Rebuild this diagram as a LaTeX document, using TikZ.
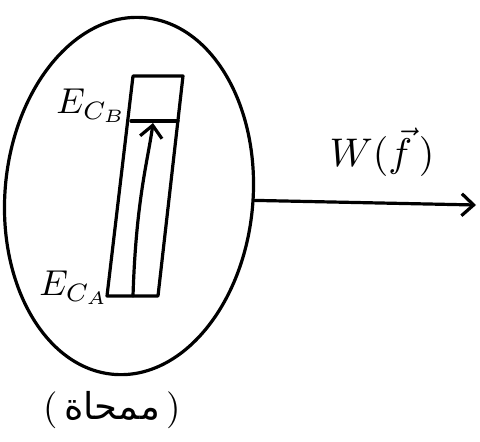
\documentclass[tikz,border=0pt]{standalone}
\usepackage{fontspec}
\usetikzlibrary{shapes.geometric,arrows.meta}
\TeXXeTstate=1
\newfontfamily\arabicfont[Script=Arabic]{DejaVu Sans}
\tikzset{
  ink/.style={line width=3.2pt, line cap=round, line join=round},
  lbl/.style={inner sep=0pt},
  tipstyle/.style={-{Straight Barb[length=12pt,width=22pt,line width=3.2pt]}}
}
\begin{document}
\begin{tikzpicture}[x=1pt,y=-1pt]
\useasboundingbox (0,0) rectangle (480,442);
% system
\node[ellipse, draw, ink, rotate=-5, minimum width=248pt, minimum height=358pt, inner sep=0pt] (sys) at (129,196) {};
% bar
\coordinate (tl) at (133,76);
\coordinate (tr) at (183,76);
\coordinate (br) at (158,296);
\coordinate (bl) at (107,296);
\coordinate (ml) at (131,121);
\coordinate (mr) at (178,121);
\coordinate (ab) at (133,296);
\coordinate (at) at (153,123);
\draw[ink] (tl) -- (tr) -- (br) -- (bl) -- cycle;
\draw[ink] (ml) -- (mr);
\draw[ink, tipstyle] (ab) .. controls (136,200) and (148,160) .. (at);
% labels
\node[lbl, anchor=east] (ecb) at (127,106) {\scalebox{3.6}{$E_{C_B}$}};
\node[lbl, anchor=east] (eca) at (109,288) {\scalebox{3.6}{$E_{C_A}$}};
% work arrow
\coordinate (tip) at (476,205);
\draw[ink, tipstyle] (sys.3) -- (tip);
\node[lbl] (w) at (382,152) {\scalebox{4}{$W(\vec f\,)$}};
% bottom label
\node[lbl] (name) at (112,410) {\scalebox{3.7}{(\,{\arabicfont\beginR ممحاة\endR}\,)}};
\end{tikzpicture}
\end{document}
